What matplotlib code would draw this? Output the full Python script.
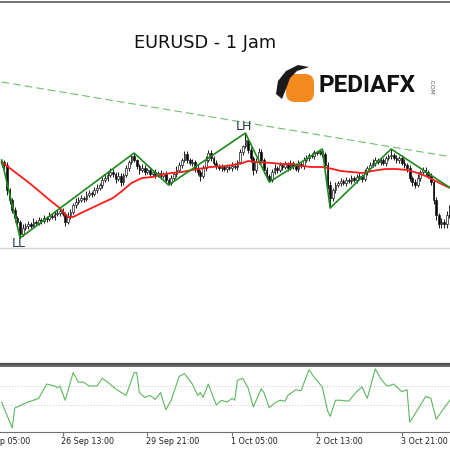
import numpy as np
import matplotlib
matplotlib.use('Agg')
import matplotlib.pyplot as plt
import matplotlib.transforms as mtransforms
from matplotlib.patches import FancyBboxPatch, Polygon

# EURUSD H1 closes, one per bar (bar 0 = 25 Sep 14:00)
first_open = 1.2832
closes = [
    1.2836, 1.2830, 1.2780, 1.2760, 1.2740, 1.2724, 1.2716, 1.2692, 1.2704, 1.2708,
    1.2712, 1.2708, 1.2716, 1.2714, 1.2720, 1.2718, 1.2724, 1.2722, 1.2728, 1.2726,
    1.2732, 1.2734, 1.2738, 1.2732, 1.2716, 1.2728, 1.2736, 1.2750, 1.2756, 1.2760,
    1.2764, 1.2762, 1.2770, 1.2774, 1.2772, 1.2780, 1.2784, 1.2790, 1.2800, 1.2804,
    1.2810, 1.2816, 1.2812, 1.2802, 1.2808, 1.2796, 1.2810, 1.2824, 1.2836, 1.2848,
    1.2840, 1.2828, 1.2820, 1.2824, 1.2816, 1.2820, 1.2812, 1.2816, 1.2810, 1.2814,
    1.2808, 1.2812, 1.2800, 1.2794, 1.2804, 1.2812, 1.2820, 1.2830, 1.2840, 1.2852,
    1.2840, 1.2834, 1.2836, 1.2824, 1.2816, 1.2808, 1.2824, 1.2840, 1.2854, 1.2844,
    1.2834, 1.2828, 1.2824, 1.2826, 1.2822, 1.2826, 1.2824, 1.2828, 1.2826, 1.2836,
    1.2856, 1.2868, 1.2880, 1.2860, 1.2844, 1.2820, 1.2836, 1.2856, 1.2840, 1.2820,
    1.2808, 1.2800, 1.2816, 1.2824, 1.2820, 1.2830, 1.2826, 1.2832, 1.2824, 1.2834,
    1.2828, 1.2822, 1.2832, 1.2828, 1.2840, 1.2844, 1.2850, 1.2848, 1.2856, 1.2854,
    1.2858, 1.2852, 1.2830, 1.2790, 1.2764, 1.2780, 1.2790, 1.2794, 1.2798, 1.2794,
    1.2800, 1.2798, 1.2804, 1.2800, 1.2806, 1.2808, 1.2802, 1.2816, 1.2824, 1.2830,
    1.2834, 1.2840, 1.2836, 1.2840, 1.2834, 1.2844, 1.2848, 1.2850, 1.2844, 1.2840,
    1.2844, 1.2834, 1.2830, 1.2824, 1.2804, 1.2796, 1.2790, 1.2804, 1.2816, 1.2820,
    1.2816, 1.2808, 1.2796, 1.2760, 1.2730, 1.2712, 1.2716, 1.2712, 1.2730, 1.2744,
    1.2760,
]
# wick lengths in pips above / below the body
up_wick = [
    4, 4, 6, 4, 4, 6, 4, 4, 8, 6,  6, 4, 8, 4, 6, 4, 6, 4, 8, 6,
    6, 8, 4, 6, 4, 8, 6, 4, 8, 6,  6, 4, 8, 6, 4, 6, 8, 4, 6, 8,
    6, 8, 6, 4, 8, 6, 4, 6, 4, 5,  6, 3, 4, 8, 6, 4, 6, 4, 6, 4,
    6, 4, 6, 4, 6, 4, 8, 6, 4, 6,  6, 4, 6, 4, 6, 4, 6, 8, 6, 6,
    4, 6, 4, 6, 4, 6, 4, 8, 6, 4,  6, 3, 14, 4, 6, 4, 8, 8, 6, 4,
    6, 4, 6, 8, 4, 6, 4, 6, 4, 6,  4, 6, 8, 4, 6, 6, 4, 4, 4, 3,
    3, 4, 4, 6, 8, 4, 6, 4, 6, 4,  6, 4, 6, 4, 6, 8, 4, 6, 4, 6,
    8, 6, 4, 6, 4, 4, 4, 12, 4, 6, 4, 6, 8, 4, 6, 4, 6, 8, 4, 6,
    6, 4, 6, 4, 6, 4, 8, 6, 8, 6,  6,
]
dn_wick = [
    6, 8, 10, 8, 6, 8, 6, 8, 4, 4,  6, 4, 4, 6, 4, 6, 4, 6, 4, 4,
    6, 4, 6, 4, 8, 4, 6, 4, 6, 4,  4, 6, 4, 4, 6, 4, 6, 4, 6, 4,
    6, 4, 6, 8, 4, 8, 6, 4, 6, 4,  4, 6, 8, 4, 6, 4, 6, 4, 6, 4,
    6, 4, 6, 4, 4, 4, 6, 4, 6, 4,  6, 4, 6, 8, 6, 10, 4, 6, 4, 6,
    4, 6, 4, 6, 4, 6, 4, 6, 4, 6,  4, 6, 4, 6, 8, 10, 6, 4, 6, 6,
    4, 4, 4, 4, 6, 4, 6, 4, 6, 4,  6, 4, 6, 4, 6, 4, 6, 4, 6, 4,
    4, 6, 6, 8, 20, 6, 6, 4, 6, 4, 6, 4, 6, 4, 6, 4, 6, 4, 6, 4,
    4, 6, 4, 6, 4, 6, 4, 6, 4, 6,  6, 4, 6, 8, 6, 8, 6, 4, 6, 4,
    6, 4, 6, 8, 10, 8, 8, 8, 8, 6,  6,
]

# moving average (red)
ma_bars = [0, 5, 10, 15, 19, 22, 25, 27, 30, 34, 38, 42, 45, 49, 53, 57, 60, 64, 68,
           74, 79, 85, 91, 93, 96, 102, 106, 110, 113, 117, 121, 125, 128, 132, 136,
           140, 142, 145, 149, 153, 157, 160, 163, 166, 170]
ma_vals = [1.2836, 1.2816, 1.2796, 1.2774, 1.2756, 1.2744, 1.2726, 1.2726, 1.2734,
           1.2744, 1.2754, 1.2764, 1.2776, 1.2794, 1.2804, 1.2806, 1.2810, 1.2814,
           1.2816, 1.2822, 1.2826, 1.2828, 1.2834, 1.2838, 1.2836, 1.2834, 1.2832,
           1.2832, 1.2828, 1.2826, 1.2826, 1.2822, 1.2818, 1.2816, 1.2814, 1.2818,
           1.2820, 1.2822, 1.2822, 1.2820, 1.2814, 1.2808, 1.2800, 1.2792, 1.2782]

# zigzag swing points
zz_bars = [0, 7, 50, 63, 92, 101, 121, 124, 147]
zz_kind = ['H', 'L', 'H', 'L', 'H', 'L', 'H', 'L', 'H']
zz_next_bar, zz_next_price = 186, 1.2726

# dashed resistance line and flat level
tl_bars = [0, 170]
tl_prices = [1.2996, 1.2846]
level_price = 1.2664

# oscillator in lower window
ind_bars = [0, 4, 5, 6, 9, 12, 14, 17, 20, 21, 22, 24, 27, 29, 31, 33, 36, 38, 40, 43,
            47, 50, 51, 52, 54, 56, 58, 60, 62, 64, 67, 69, 72, 74, 75, 76, 78, 81, 83,
            85, 87, 88, 89, 91, 93, 95, 98, 99, 101, 103, 105, 107, 108, 111, 113, 116,
            118, 121, 123, 124, 126, 128, 131, 134, 136, 138, 141, 143, 145, 146, 148,
            151, 153, 154, 157, 160, 162, 164, 167, 170]
ind_vals = [43, 16, 37, 38, 42, 45, 47, 62, 60, 58, 60, 45, 74, 64, 64, 60, 60, 68, 64,
            57, 50, 74, 74, 53, 48, 50, 46, 53, 35, 45, 70, 73, 62, 50, 53, 48, 62, 40,
            45, 43, 47, 45, 66, 68, 58, 38, 57, 53, 37, 42, 45, 44, 50, 56, 55, 77, 69,
            59, 34, 28, 45, 45, 44, 54, 59, 47, 78, 68, 61, 60, 62, 54, 56, 22, 35, 49,
            47, 25, 37, 48]
ind_levels = [60, 40]

tick_bars = [-9, 23, 55, 87, 119, 151]
tick_labels = ['25 Sep 05:00', '26 Sep 13:00', '29 Sep 21:00', '1 Oct 05:00',
               '2 Oct 13:00', '3 Oct 21:00']

# build OHLC
bars = np.arange(len(closes))
closes_a = np.array(closes)
opens_a = np.array([first_open] + closes[:-1])
highs = np.maximum(opens_a, closes_a) + np.array(up_wick) * 0.0001
lows = np.minimum(opens_a, closes_a) - np.array(dn_wick) * 0.0001

fig = plt.figure(figsize=(4.5, 4.5), dpi=100)
ax = fig.add_axes([0, 1 - 364 / 450, 1, 362 / 450])
ax2 = fig.add_axes([0, 1 - 432 / 450, 1, 66 / 450])
xlim = (-0.6, -0.6 + 450 / 2.65)

# candles
ax.vlines(bars, lows, highs, color='#1a1a1a', lw=0.7, zorder=2)
body_bot = np.minimum(opens_a, closes_a)
body_h = np.maximum(np.abs(closes_a - opens_a), 0.00006)
faces = ['white' if c >= o else 'black' for o, c in zip(opens_a, closes_a)]
ax.bar(bars, body_h, bottom=body_bot, width=0.65, color=faces,
       edgecolor='#1a1a1a', linewidth=0.5, zorder=3)

ax.axhline(level_price, color='#d6d6d6', lw=1.0, zorder=1)
ax.plot(tl_bars, tl_prices, color='#6cc06c', lw=0.8, dashes=(7, 3.5), zorder=4)
ax.plot(ma_bars, ma_vals, color='#ff1a1a', lw=1.3, zorder=4)

zz_x = list(zz_bars) + [zz_next_bar]
zz_y = [highs[b] if k == 'H' else lows[b] for b, k in zip(zz_bars, zz_kind)] + [zz_next_price]
ax.plot(zz_x, zz_y, color='#1a8a1a', lw=1.2, zorder=5)

ax.annotate('LH', (92, highs[92]), xytext=(-1, 0), textcoords='offset points',
            ha='center', va='bottom', fontsize=9, color='#2a3550', zorder=6)
ax.annotate('LL', (7, lows[7]), xytext=(-1, 1), textcoords='offset points',
            ha='center', va='top', fontsize=9, color='#2a3550', zorder=6)

ax.set_xlim(xlim)
ax.set_ylim(1.2432, 1.3156)
ax.set_xticks([])
ax.set_yticks([])
for s in ['left', 'right']:
    ax.spines[s].set_visible(False)
ax.spines['top'].set_color('#5a5a5a')
ax.spines['top'].set_linewidth(1.2)
ax.spines['bottom'].set_color('#505050')
ax.spines['bottom'].set_linewidth(1.6)

# lower oscillator window
for lv in ind_levels:
    ax2.axhline(lv, color='#c4c4c4', lw=0.7, ls=(0, (1, 2)))
ax2.plot(ind_bars, ind_vals, color='#5cb85c', lw=0.8)
ax2.set_yticks([])
ax2.set_xticks(tick_bars)
ax2.set_xticklabels([])
ax2.set_xlim(xlim)
ax2.set_ylim(11.6, 81.0)
ax2.tick_params(axis='x', direction='out', length=3, color='#707070', width=0.8)
for s in ['left', 'right']:
    ax2.spines[s].set_visible(False)
ax2.spines['top'].set_color('#505050')
ax2.spines['top'].set_linewidth(1.2)
ax2.spines['bottom'].set_color('#707070')
ax2.spines['bottom'].set_linewidth(0.8)

trans = mtransforms.blended_transform_factory(ax2.transData, ax2.transAxes)
for b, lab in zip(tick_bars, tick_labels):
    ax2.text(b - 0.4, -0.07, lab, transform=trans, ha='left', va='top',
             fontsize=5.8, color='#202020', clip_on=False)

# title and logo drawn on an overlay in pixel units
ov = fig.add_axes([0, 0, 1, 1], facecolor='none')
ov.set_xlim(0, 450)
ov.set_ylim(450, 0)
ov.axis('off')
ov.text(205, 43, 'EURUSD - 1 Jam', ha='center', va='center', fontsize=12.8, color='#111111')
ov.add_patch(FancyBboxPatch((286, 74), 28, 28, boxstyle='round,pad=0,rounding_size=9',
                            facecolor='#f28a1e', edgecolor='none'))
ov.add_patch(Polygon([(276, 94), (278, 81), (286, 71), (298, 65), (309, 67), (297, 71),
                      (290, 78), (286, 89), (282, 99)], closed=True,
                     facecolor='#1a1a1a', edgecolor='none'))
ov.text(319, 86, 'PEDIAFX', ha='left', va='center', fontsize=17.5, fontweight='bold',
        family='Roboto', color='#111111')
ov.text(431, 87, '.COM', ha='center', va='center', fontsize=4.2, rotation=-90,
        color='#555555')

fig.savefig('out.png', dpi=100, facecolor='white')
